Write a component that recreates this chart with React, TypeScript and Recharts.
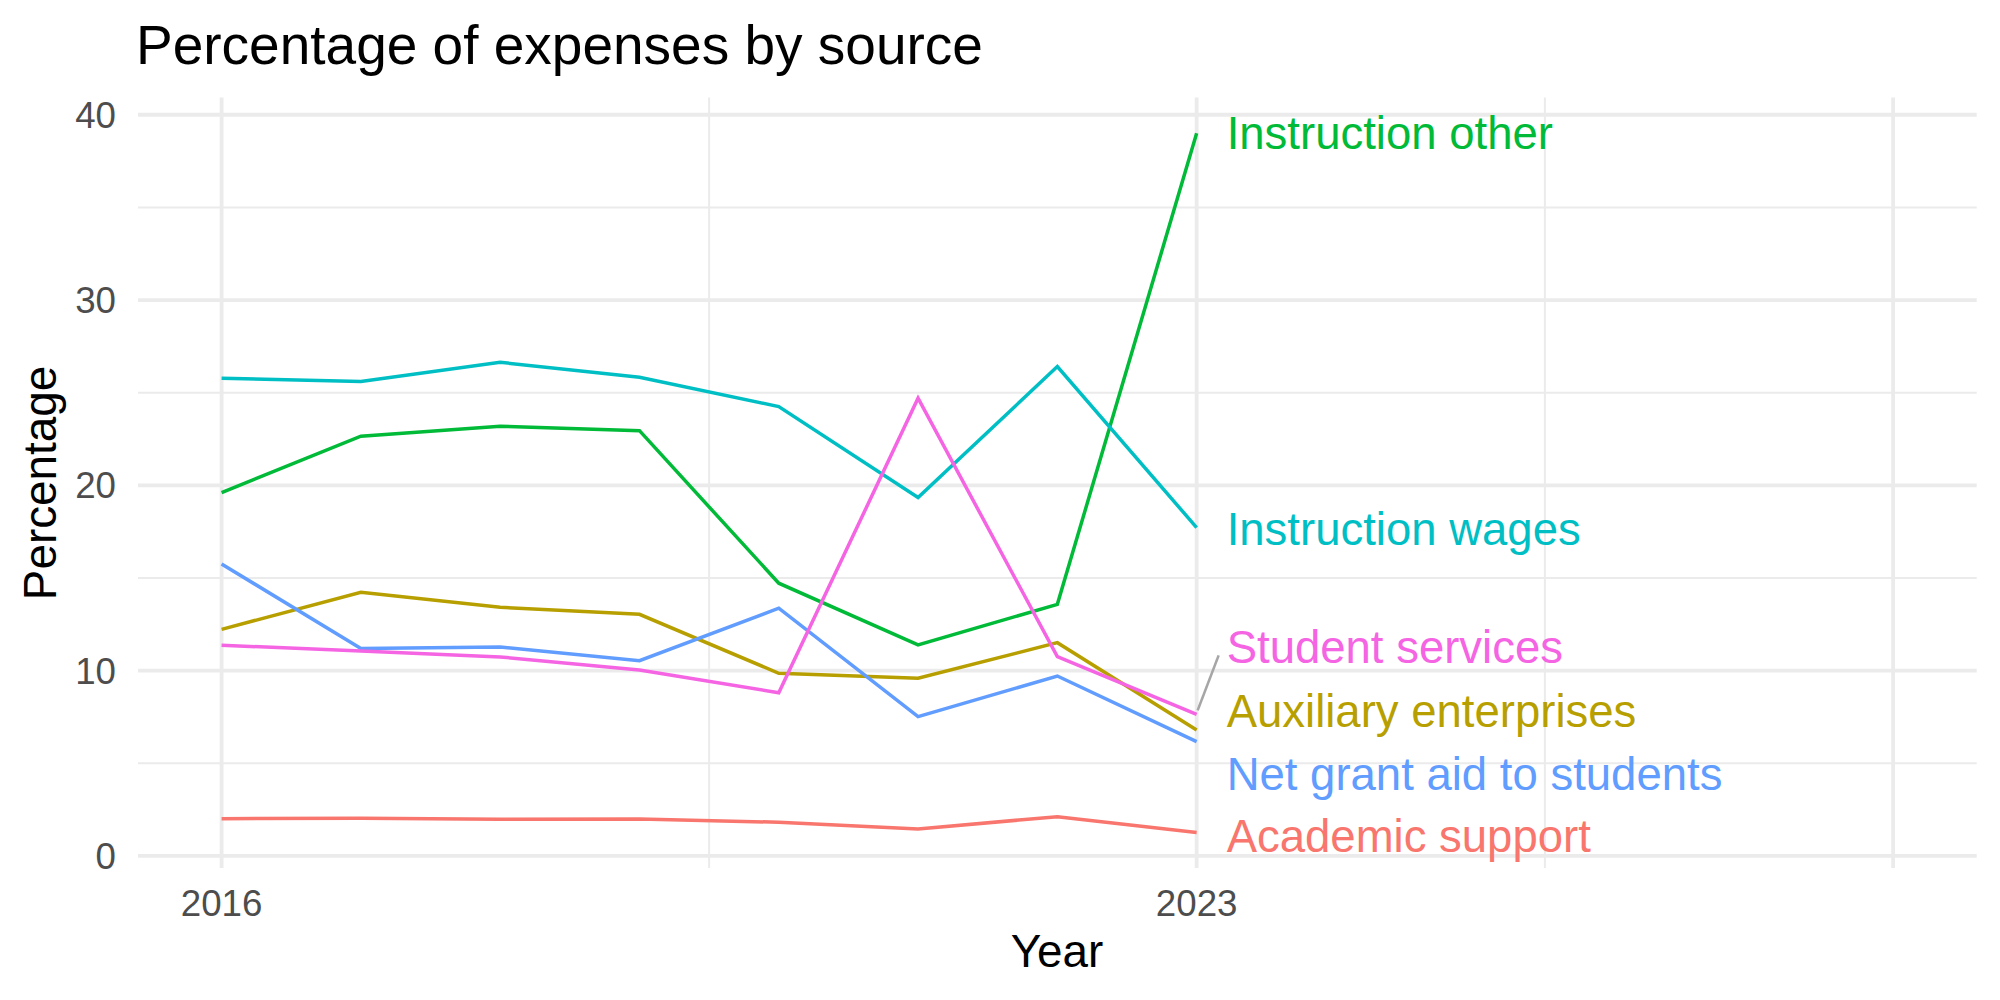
import React from 'react';
import { LineChart, Line, XAxis, YAxis, CartesianGrid, LabelList } from 'recharts';

// Expense shares by year (percent)
const years = [2016, 2017, 2018, 2019, 2020, 2021, 2022, 2023];
const academicSupport = [2.01, 2.03, 1.98, 2.0, 1.82, 1.46, 2.12, 1.26];
const auxiliaryEnterprises = [12.23, 14.23, 13.42, 13.04, 9.86, 9.59, 11.51, 6.8];
const instructionOther = [19.61, 22.65, 23.19, 22.95, 14.72, 11.39, 13.58, 39.0];
const instructionWages = [25.78, 25.6, 26.64, 25.83, 24.25, 19.34, 26.41, 17.72];
const netGrantAid = [15.76, 11.19, 11.28, 10.54, 13.37, 7.52, 9.71, 6.17];
const studentServices = [11.37, 11.06, 10.74, 10.04, 8.81, 24.7, 10.76, 7.64];

const xTicks = [2016, 2023];
const yTicks = [0, 10, 20, 30, 40];

const FONT = '"Liberation Sans", Arial, Helvetica, sans-serif';

// ggplot-style hue palette, one entry per source
const series = [
  { key: 'academic', name: 'Academic support', values: academicSupport, color: '#F8766D', nudge: 3 },
  { key: 'auxiliary', name: 'Auxiliary enterprises', values: auxiliaryEnterprises, color: '#B79F00', nudge: -19 },
  { key: 'instrOther', name: 'Instruction other', values: instructionOther, color: '#00BA38', nudge: 0 },
  { key: 'instrWages', name: 'Instruction wages', values: instructionWages, color: '#00BFC4', nudge: 1 },
  { key: 'netGrant', name: 'Net grant aid to students', values: netGrantAid, color: '#619CFF', nudge: 32 },
  { key: 'student', name: 'Student services', values: studentServices, color: '#F564E3', nudge: -67 },
];

const data = years.map((year, i) => {
  const row: Record<string, number> = { year };
  series.forEach(s => {
    row[s.key] = s.values[i];
  });
  return row;
});

const lastIndex = years.length - 1;

// Repelled end-of-line label; a grey leader is drawn when the label moved far
function endLabel(name: string, color: string, nudge: number) {
  return (props: any) => {
    if (props.index !== lastIndex) return null;
    const x = Number(props.x);
    const y = Number(props.y);
    const cy = y + nudge;
    return (
      <g>
        {Math.abs(nudge) > 40 && (
          <line x1={x + 1} y1={y - 4} x2={x + 22} y2={cy + 8} stroke="#A6A6A6" strokeWidth={2.6} />
        )}
        <text x={x + 30} y={cy + 16} fill={color} fontSize={45.5} fontFamily={FONT}>
          {name}
        </text>
      </g>
    );
  };
}

export default function App() {
  return (
    <div style={{ position: 'absolute', left: 0, top: 0, width: 2000, height: 1000, background: '#fff' }}>
      <LineChart
        width={2000}
        height={1000}
        data={data}
        margin={{ top: 97.5, right: 23.3, bottom: 0, left: 0 }}
      >
        <CartesianGrid
          stroke="#EBEBEB"
          strokeWidth={2}
          horizontalValues={[5, 15, 25, 35]}
          verticalValues={[2019.5, 2025.5]}
        />
        <CartesianGrid
          stroke="#EBEBEB"
          strokeWidth={3.8}
          horizontalValues={[0, 10, 20, 30, 40]}
          verticalValues={[2016, 2023, 2028]}
        />
        <XAxis
          dataKey="year"
          type="number"
          domain={[2015.4, 2028.6]}
          allowDataOverflow
          ticks={xTicks}
          height={132}
          axisLine={false}
          tickLine={false}
          tickSize={0}
          tickMargin={22}
          tick={{ fill: '#4D4D4D', fontSize: 36.7, fontFamily: FONT }}
        />
        <YAxis
          type="number"
          domain={[-0.65, 40.93]}
          allowDataOverflow
          ticks={yTicks}
          width={138}
          axisLine={false}
          tickLine={false}
          tickSize={0}
          tickMargin={22}
          tick={{ fill: '#4D4D4D', fontSize: 36.7, fontFamily: FONT }}
        />
        {series.map(s => (
          <Line
            key={s.key}
            dataKey={s.key}
            name={s.name}
            type="linear"
            stroke={s.color}
            strokeWidth={3.5}
            dot={false}
            isAnimationActive={false}
          >
            <LabelList dataKey={s.key} content={endLabel(s.name, s.color, s.nudge)} />
          </Line>
        ))}
      </LineChart>
      <svg
        width={2000}
        height={1000}
        style={{ position: 'absolute', left: 0, top: 0, pointerEvents: 'none' }}
      >
        <text x={136} y={64} fontSize={55} fontFamily={FONT} fill="#000">
          Percentage of expenses by source
        </text>
        <text x={1057} y={967} fontSize={45.8} fontFamily={FONT} fill="#000" textAnchor="middle">
          Year
        </text>
        <text
          x={56}
          y={483}
          fontSize={45.8}
          fontFamily={FONT}
          fill="#000"
          textAnchor="middle"
          transform="rotate(-90 56 483)"
        >
          Percentage
        </text>
      </svg>
    </div>
  );
}
